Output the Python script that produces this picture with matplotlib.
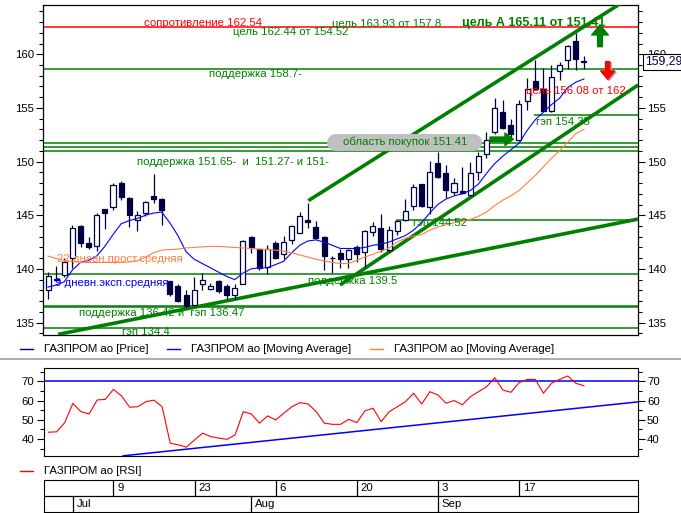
import matplotlib
matplotlib.use("Agg")
import matplotlib.pyplot as plt
from matplotlib.lines import Line2D
from matplotlib.ticker import MultipleLocator
import numpy as np
import pandas as pd

plt.rcParams['font.family'] = ['Liberation Sans', 'DejaVu Sans']

# trading days 27 Jun .. 27 Sep 2012
dates = pd.bdate_range('2012-06-27', '2012-09-27')

opens = [138.0, 139.05, 139.4, 141.0, 144.0, 142.4, 142.1, 145.6, 145.75, 148.0,
         146.65, 144.6, 145.2, 146.75, 146.55, 138.9, 138.4, 137.6, 136.6, 138.6,
         138.1, 138.9, 138.4, 137.6, 138.6, 143.0, 141.9, 140.2, 142.4, 141.4,
         142.65, 143.3, 144.6, 143.9, 143.0, 141.05, 141.5, 140.9, 142.0, 141.6,
         143.45, 143.85, 141.75, 143.5, 144.55, 145.85, 147.9, 145.75, 149.9, 148.9,
         147.2, 147.25, 146.9, 149.05, 150.75, 152.8, 154.6, 153.4, 152.0, 155.6,
         157.5, 156.8, 154.7, 158.45, 159.45, 161.2, 159.3]
highs = [139.7, 140.3, 141.0, 144.1, 144.1, 143.0, 145.2, 145.6, 148.0, 148.2,
         146.7, 145.4, 146.3, 148.8, 146.6, 138.9, 138.6, 138.0, 139.2, 139.6,
         138.7, 139.0, 138.6, 138.6, 142.65, 143.1, 141.9, 142.2, 142.6, 143.05,
         144.1, 145.3, 146.1, 144.5, 143.1, 141.2, 141.9, 141.9, 142.2, 143.6,
         144.4, 145.1, 144.0, 144.6, 146.5, 147.9, 147.9, 150.1, 150.9, 149.7,
         148.5, 149.5, 150.0, 150.9, 152.8, 155.9, 155.7, 154.0, 155.7, 157.75,
         159.5, 158.7, 159.0, 159.3, 160.9, 162.0, 159.8]
lows = [137.2, 138.9, 139.2, 140.1, 142.0, 141.9, 141.7, 143.7, 145.5, 146.45,
        143.9, 143.5, 144.9, 146.1, 144.1, 137.5, 136.95, 136.35, 136.55, 138.0,
        138.0, 137.8, 137.2, 137.2, 138.55, 141.5, 139.9, 139.5, 140.9, 140.9,
        142.3, 143.3, 143.8, 142.8, 139.9, 139.6, 140.1, 140.1, 140.6, 140.2,
        143.1, 141.6, 141.6, 143.2, 144.5, 145.5, 145.8, 145.1, 148.5, 146.6,
        146.9, 147.0, 146.8, 148.3, 150.3, 152.6, 153.0, 152.1, 151.9, 154.8,
        156.7, 154.7, 154.6, 157.6, 158.6, 158.55, 158.6]
closes = [139.3, 138.95, 140.6, 143.8, 142.4, 142.05, 145.05, 145.2, 147.85, 146.7,
          145.05, 145.05, 146.2, 146.55, 145.5, 137.65, 137.0, 136.5, 138.05, 139.0,
          138.4, 137.9, 137.6, 138.2, 142.6, 142.0, 140.1, 141.9, 141.0, 142.5,
          144.0, 144.9, 144.4, 142.85, 141.2, 141.0, 140.95, 141.75, 141.4, 143.5,
          144.0, 141.9, 143.6, 144.5, 145.35, 147.6, 145.9, 149.05, 148.6, 147.35,
          148.0, 147.1, 148.95, 150.5, 152.0, 154.95, 153.1, 152.55, 155.4, 156.75,
          156.75, 154.75, 157.85, 159.0, 160.75, 159.55, 159.29]

ema9 = [138.3, 138.5, 138.8, 139.9, 140.6, 140.8, 141.2, 142.1, 143.2, 144.2,
        144.5, 144.7, 145.0, 145.2, 145.3, 144.3, 143.1, 141.6, 140.9, 140.5,
        140.1, 139.7, 139.3, 139.0, 139.6, 140.0, 140.1, 140.1, 140.4, 140.7,
        141.5, 142.2, 142.6, 142.7, 142.5, 142.2, 141.9, 141.9, 141.9, 142.0,
        142.2, 142.3, 142.5, 142.8, 143.1, 143.6, 144.3, 145.2, 146.0, 146.5,
        146.8, 147.0, 147.3, 147.9, 148.9, 149.8, 150.5, 151.1, 151.7, 152.9,
        153.9, 154.6, 155.3, 155.9, 156.9, 157.4, 157.7]
sma22 = [141.2, 140.95, 140.8, 140.7, 140.6, 140.6, 140.6, 140.6, 140.6, 140.6,
         140.65, 140.75, 141.1, 141.5, 141.75, 141.8, 141.85, 141.95, 142.0, 142.05,
         142.1, 142.1, 142.05, 142.0, 141.95, 141.9, 141.85, 141.8, 141.75, 141.65,
         141.5, 141.3, 141.1, 140.9, 140.75, 140.6, 140.5, 140.5, 140.8, 141.1,
         141.35, 141.65, 141.95, 142.5, 142.85, 143.05, 143.2, 143.6, 143.9, 144.1,
         144.3, 144.45, 144.6, 144.9, 145.3, 145.9, 146.4, 146.8, 147.3, 148.0,
         148.7, 149.5, 150.3, 151.0, 151.8, 152.6, 153.0]
rsi = [43.5, 43.7, 48.5, 58.5, 54.2, 53.0, 60.3, 60.6, 65.8, 62.4,
       56.5, 56.8, 59.4, 60.2, 56.8, 37.8, 36.9, 35.7, 39.5, 43.0,
       41.2, 40.4, 39.8, 42.1, 54.2, 53.0, 48.2, 52.0, 49.9, 53.4,
       56.8, 58.9, 58.2, 54.2, 48.2, 47.6, 47.6, 50.2, 48.5, 54.6,
       56.0, 49.0, 54.2, 56.8, 59.4, 63.8, 58.2, 64.6, 62.9, 58.6,
       60.0, 57.8, 62.0, 64.6, 67.2, 71.9, 65.5, 64.3, 69.3, 71.0,
       71.0, 63.8, 69.0, 71.0, 72.8, 69.0, 67.7]

# support / resistance levels (full width)
levels_green = [158.65, 151.7, 151.35, 151.03, 139.57, 136.42, 136.5, 134.46]
level_red = 162.54
# gaps starting at a given bar
gap_levels = [144.53, 154.34]
gap_start = [42.8, 59.9]
# trend lines (bar index, price)
trend_upper = ([32.06, 72.66], [146.36, 165.75])
trend_lower = ([35.96, 72.66], [138.5, 157.13])
trend_long = ([1.23, 72.66], [133.9, 144.64])
rsi_trend = ([9.2, 72.66], [31.2, 59.3])

NAVY = '#000040'
GREEN = '#008000'
W, H = 681, 513
XL = (-0.62, 72.66)


def box(l, t, r, b):
    return [l / W, 1 - b / H, (r - l) / W, (b - t) / H]


fig = plt.figure(figsize=(W / 100, H / 100), dpi=100)
fs = 8.2

# ---------------- price panel ----------------
ax = fig.add_axes(box(43, 5, 638, 335))
x = np.arange(len(dates))
o, h, l, c = map(np.array, (opens, highs, lows, closes))
up = c >= o

for v in levels_green:
    ax.axhline(v, color=GREEN, lw=1.1, zorder=2)
ax.axhline(level_red, color='#ff0000', lw=1.1, zorder=2)
for v, s in zip(gap_levels, gap_start):
    ax.hlines(v, s, XL[1], color=GREEN, lw=1.1, zorder=2)

for tx, ty in (trend_upper, trend_lower, trend_long):
    ax.plot(tx, ty, color=GREEN, lw=2.6, solid_capstyle='butt', zorder=3)

ax.vlines(x, l, h, color=NAVY, lw=0.9, zorder=4)
ax.bar(x, np.maximum(np.abs(c - o), 0.05), bottom=np.minimum(o, c), width=0.62,
       color=np.where(up, 'white', NAVY), edgecolor=NAVY, lw=0.9, zorder=5)

ax.plot(x, ema9, color='#0000ff', lw=0.8, zorder=6)
ax.plot(x, sma22, color='#ff8040', lw=0.8, zorder=6)

# buy-zone label
ax.plot([35.4, 52.4], [151.87, 151.87], color='#c0c0c0', lw=12.2,
        solid_capstyle='round', zorder=7)

labels = [
    (11.86, 162.94, 'сопротивление 162.54', '#ff0000'),
    (22.78, 162.05, 'цель 162.44 от 154.52', GREEN),
    (34.98, 162.82, 'цель 163.93 от 157.8', GREEN),
    (19.83, 158.14, 'поддержка 158.7-', GREEN),
    (10.92, 149.99, 'поддержка 151.65-  и  151.27- и 151-', GREEN),
    (36.37, 151.8, 'область покупок 151.41', GREEN),
    (58.87, 156.61, 'цель 156.08 от 162', '#ff0000'),
    (60.1, 153.72, 'гэп 154.35', GREEN),
    (44.99, 144.25, 'гэп 144.52', GREEN),
    (32.06, 138.9, 'поддержка 139.5', GREEN),
    (3.85, 135.86, 'поддержка 136.42 и  гэп 136.47', GREEN),
    (9.08, 134.15, 'гэп 134.4', GREEN),
    (1.07, 140.9, '22 дневн.прост.средняя', '#ff8040'),
    (0.86, 138.71, '9 дневн.эксп.средняя', '#0000ff'),
]
for tx, ty, s, col in labels:
    ax.text(tx, ty, s, color=col, fontsize=fs, ha='left', va='center', zorder=8)
ax.text(50.95, 162.94, 'цель А 165.11 от 151.41', color=GREEN, fontsize=9,
        fontweight='bold', ha='left', va='center', zorder=8)

# arrows
ax.annotate('', xy=(57.3, 152.08), xytext=(54.43, 152.08), zorder=9,
            arrowprops=dict(arrowstyle='simple,head_length=0.6,head_width=0.9,tail_width=0.32',
                            color=GREEN, shrinkA=0, shrinkB=0))
ax.annotate('', xy=(67.98, 162.73), xytext=(67.98, 160.71), zorder=9,
            arrowprops=dict(arrowstyle='simple,head_length=0.72,head_width=1.2,tail_width=0.34',
                            color=GREEN, shrinkA=0, shrinkB=0))
ax.annotate('', xy=(69.1, 157.57), xytext=(69.1, 159.21), zorder=8,
            arrowprops=dict(arrowstyle='simple,head_length=0.6,head_width=1.0,tail_width=0.3',
                            color='#a0a0a0', shrinkA=0, shrinkB=0))
ax.annotate('', xy=(68.92, 157.67), xytext=(68.92, 159.31), zorder=9,
            arrowprops=dict(arrowstyle='simple,head_length=0.6,head_width=1.0,tail_width=0.3',
                            color='#ff0000', shrinkA=0, shrinkB=0))

ax.set_xlim(XL)
ax.set_ylim(133.84, 164.59)
ax.set_xticks([])
ax.yaxis.set_major_locator(MultipleLocator(5))
ax.yaxis.set_minor_locator(MultipleLocator(1))
ax.tick_params(axis='y', which='both', left=True, right=True, labelleft=True,
               labelright=True, direction='out', labelsize=fs, pad=1.5, width=0.8)
ax.tick_params(axis='y', which='major', length=5)
ax.tick_params(axis='y', which='minor', length=3)
for sp in ax.spines.values():
    sp.set_linewidth(0.9)

ax.text(1.012, 159.29, '159,29', transform=ax.get_yaxis_transform(), ha='left',
        va='center', fontsize=fs + 0.5, color=NAVY, clip_on=False, zorder=10,
        bbox=dict(boxstyle='square,pad=0.15', fc='white', ec='black', lw=0.8))

# ---------------- legends ----------------
def leg(x0, y, color, text):
    fig.add_artist(Line2D([x0 / W, (x0 + 13) / W], [1 - y / H, 1 - y / H], color=color, lw=1))
    fig.text((x0 + 24) / W, 1 - y / H, text, fontsize=fs, va='center', ha='left')


leg(19.5, 349.3, '#000080', 'ГАЗПРОМ ао [Price]')
leg(167, 349.3, '#0000ff', 'ГАЗПРОМ ао [Moving Average]')
leg(370, 349.3, '#ff8040', 'ГАЗПРОМ ао [Moving Average]')
fig.add_artist(Line2D([0, 1], [1 - 358.5 / H] * 2, color='#a0a0a0', lw=1.2))
leg(19.5, 470.7, '#ff0000', 'ГАЗПРОМ ао [RSI]')

# ---------------- RSI panel ----------------
ar = fig.add_axes(box(43.5, 368.3, 638, 456))
ar.plot(x, rsi, color='#ff0000', lw=0.8, zorder=3)
ar.axhline(70, color='#0000ff', lw=1.1, zorder=2)
ar.plot(*rsi_trend, color='#0000ff', lw=1.1, zorder=2)
ar.set_xlim(XL)
ar.set_ylim(31.1, 76.8)
ar.set_xticks([])
ar.set_yticks([40, 50, 60, 70])
ar.yaxis.set_minor_locator(MultipleLocator(5))
ar.tick_params(axis='y', which='both', left=True, right=True, labelleft=True,
               labelright=True, direction='out', labelsize=fs, pad=1.5, width=0.8)
ar.tick_params(axis='y', which='major', length=5)
ar.tick_params(axis='y', which='minor', length=3)

# ---------------- date axis ----------------
ad = fig.add_axes(box(43.5, 480, 638, 512))
ad.set_xlim(XL)
ad.set_ylim(0, 2)
ad.set_xticks([])
ad.set_yticks([])
ad.axhline(1, color='black', lw=0.9)
day_marks = ['2012-07-09', '2012-07-23', '2012-08-06', '2012-08-20', '2012-09-03', '2012-09-17']
for d in day_marks:
    i = dates.get_loc(pd.Timestamp(d))
    ad.vlines(i, 1, 2, color='black', lw=0.9)
    ad.text(i + 0.45, 1.5, str(pd.Timestamp(d).day), fontsize=fs, va='center', ha='left')
month_first = [dates[dates.month == m][0] for m in (7, 8, 9)]
for d in month_first:
    i = dates.get_loc(d)
    ad.vlines(i, 0, 1, color='black', lw=0.9)
    ad.text(i + 0.45, 0.5, d.strftime('%b'), fontsize=fs, va='center', ha='left')

fig.savefig('out.png', dpi=100)
